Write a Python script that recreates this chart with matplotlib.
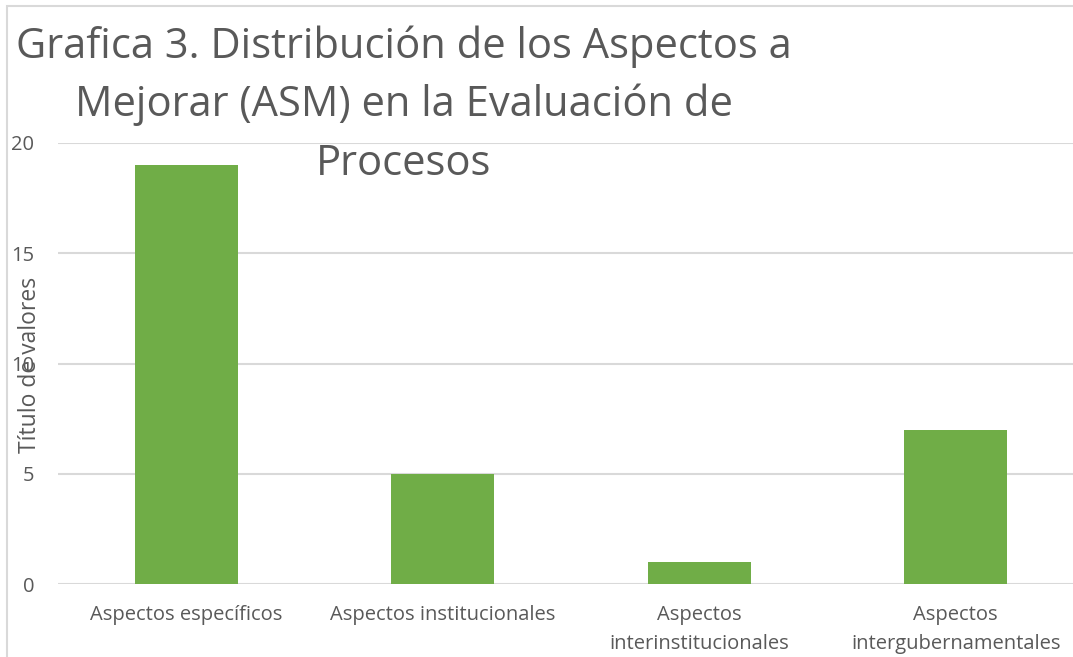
import matplotlib
matplotlib.use("Agg")
import matplotlib.pyplot as plt
from matplotlib.patches import Rectangle

categories = ["Aspectos específicos", "Aspectos institucionales",
              "Aspectos\ninterinstitucionales", "Aspectos\nintergubernamentales"]
values = [19, 5, 1, 7]
yticks = [0, 5, 10, 15, 20]
title_lines = ["Grafica 3. Distribución de los Aspectos a",
               "Mejorar (ASM) en la Evaluación de",
               "Procesos"]

W, H = 1073, 657
fig = plt.figure(figsize=(W / 100, H / 100), dpi=100)
plt.rcParams['font.family'] = ['Open Sans', 'DejaVu Sans']

# outer chart border (cropped on right/bottom)
fig.patches.append(Rectangle((7 / W, -0.1), 1.2, 1 - 6 / H + 0.1, transform=fig.transFigure,
                             fill=False, edgecolor='#d9d9d9', linewidth=1.5))

left, right = 58, 1084
bottom, top = 584, 143
ax = fig.add_axes([left / W, 1 - bottom / H, (right - left) / W, (bottom - top) / H])
ax.bar(range(len(values)), values, width=0.4, color='#70AD47', zorder=3)
ax.set_xlim(-0.5, len(values) - 0.5)
ax.set_ylim(0, 20)
ax.set_yticks(yticks)
ax.yaxis.grid(True, color='#d9d9d9', linewidth=1.5, zorder=0)
for s in ax.spines.values():
    s.set_visible(False)
ax.tick_params(axis='both', length=0, colors='#595959', labelsize=14.5)
ax.tick_params(axis='y', pad=17)
ax.tick_params(axis='x', pad=15)
ax.set_xticks(range(len(categories)))
ax.set_xticklabels(categories, linespacing=1.6)

fig.text(30 / W, 1 - 365 / H, "Título de valores", rotation=90, ha='center', va='center',
         fontsize=16.5, color='#595959')

baselines = [58, 116, 175]
for line, yb in zip(title_lines, baselines):
    fig.text(404 / W, 1 - yb / H, line, ha='center', va='baseline',
             fontsize=30, color='#595959')

fig.savefig("out.png", dpi=100)
